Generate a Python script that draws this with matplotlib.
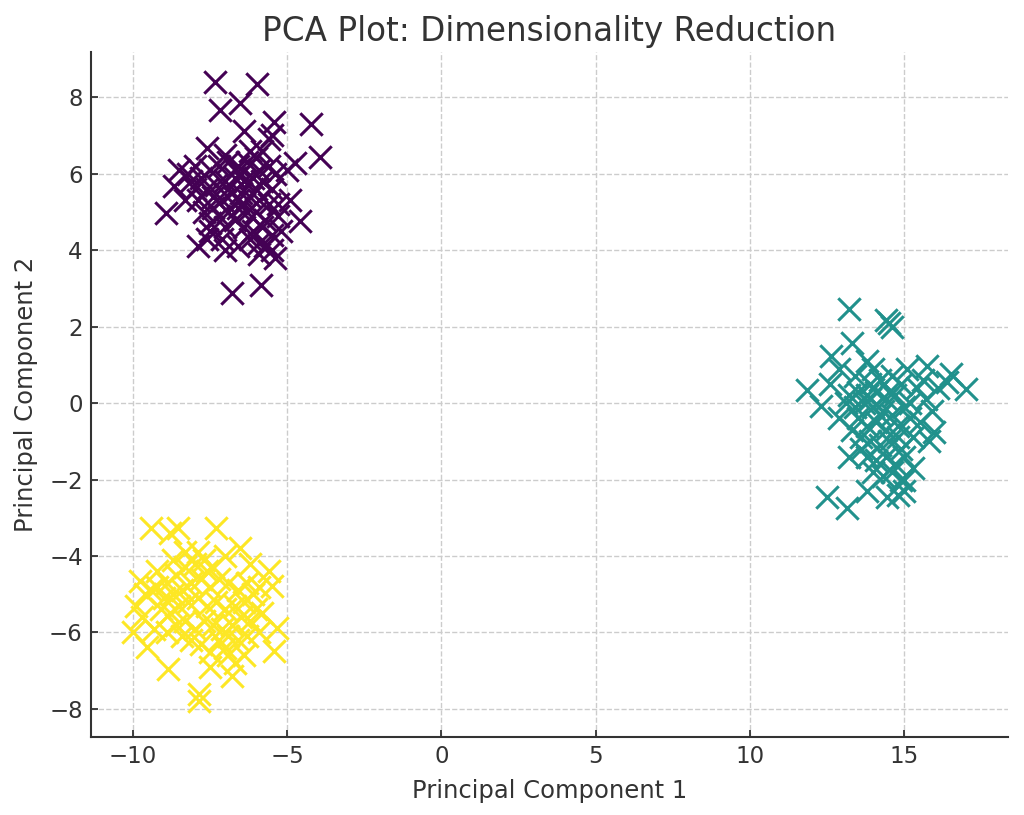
import matplotlib
matplotlib.use("Agg")
import matplotlib.pyplot as plt
import numpy as np

# Cluster 0 (purple)
c0_x = [-7.32, -5.96, -7.19, -6.51, -5.41, -4.24, -6.38, -5.50, -3.92, -7.61, -8.91, -8.65, -6.80, -5.86,
        -4.57, -4.73, -5.60, -7.90, -7.50, -5.90, -5.50, -5.20, -5.00, -4.90, -8.30, -8.50, -8.00, -7.00,
        -6.20, -5.40,
        -7.8, -7.5, -7.2, -6.9, -6.6, -6.3, -6.0, -5.8, -5.6, -5.4, -7.6, -7.3, -7.0, -6.7, -6.4, -6.1,
        -5.8, -5.5, -7.9, -7.4, -7.1, -6.8, -6.5, -6.2, -5.9, -5.6, -7.7, -7.2, -6.9, -6.6, -6.3, -6.0,
        -5.7, -5.3, -7.5, -7.0, -6.7, -6.4, -6.1, -5.8, -5.5, -8.1, -8.2, -7.0, -6.2, -5.9, -6.5, -6.9,
        -7.4, -6.6, -6.0, -5.9, -5.7, -5.3, -8.0, -7.1, -6.6, -7.6, -6.4, -6.7]
c0_y = [8.39, 8.34, 7.66, 7.84, 7.34, 7.29, 7.13, 7.00, 6.45, 6.66, 4.96, 5.67, 2.89, 3.10,
        4.75, 6.27, 6.90, 4.10, 4.50, 3.90, 4.00, 4.50, 6.10, 5.30, 5.30, 6.10, 6.20, 4.00,
        4.30, 3.80,
        5.9, 6.1, 6.2, 6.3, 6.2, 6.3, 6.4, 6.6, 6.2, 6.0, 5.6, 5.7, 5.8, 5.9, 5.8, 5.9,
        5.8, 5.6, 5.3, 5.4, 5.3, 5.5, 5.5, 5.4, 5.3, 5.2, 5.0, 4.9, 5.0, 5.1, 5.0, 5.0,
        4.8, 4.9, 4.7, 4.6, 4.8, 4.6, 4.5, 4.6, 4.4, 5.8, 6.0, 6.5, 6.6, 6.1, 6.0, 5.6,
        5.1, 5.3, 5.6, 4.2, 4.1, 5.2, 5.6, 4.3, 4.1, 4.3, 5.2, 6.1]

# Cluster 1 (teal)
c1_x = [13.21, 14.41, 14.61, 14.50, 11.85, 12.31, 17.00, 16.51, 16.40, 15.74, 12.50, 13.15, 13.80, 14.44,
        14.99, 15.96, 12.63, 13.30, 13.80, 12.90, 15.10, 15.70, 16.10, 12.60, 12.90, 15.80, 15.90, 15.30,
        15.00, 14.80, 13.20,
        13.2, 13.5, 13.8, 14.1, 14.4, 14.7, 13.4, 13.7, 14.0, 14.3, 14.6, 15.0, 13.5, 13.8, 14.1, 14.4,
        14.8, 15.2, 13.6, 13.9, 14.2, 14.5, 14.9, 15.3, 13.8, 14.1, 14.4, 14.7, 15.0, 14.0, 14.3, 14.6,
        14.9, 13.9, 14.2, 14.6, 14.9, 15.4, 13.1, 13.4, 14.0, 15.2, 15.5, 13.3, 13.6, 14.5, 13.9, 14.2,
        14.8, 15.6]
c1_y = [2.47, 2.16, 1.98, 2.10, 0.33, -0.07, 0.38, 0.77, 0.55, 0.98, -2.47, -2.74, -2.29, -2.47,
        -2.29, -0.77, 1.24, 1.56, 1.10, 0.90, 0.90, 0.10, 0.40, 0.50, -0.40, -1.00, -0.20, -1.70,
        -2.00, -2.40, -1.40,
        0.2, 0.3, 0.2, 0.3, 0.1, 0.2, -0.1, 0.0, -0.1, -0.2, -0.3, -0.1, -0.4, -0.6, -0.5, -0.7,
        -0.6, -0.4, -0.9, -1.0, -1.1, -1.0, -1.2, -0.9, -1.4, -1.5, -1.4, -1.6, -1.4, -1.8, -1.9, -1.8,
        -2.0, 0.5, 0.6, 0.7, 0.5, 0.4, 0.0, 0.7, 0.9, 0.0, -0.5, -0.7, -1.2, 0.3, 0.1, -0.3,
        -0.9, 0.6]

# Cluster 2 (yellow)
c2_x = [-7.84, -7.84, -9.42, -8.55, -8.80, -7.29, -6.54, -5.57, -5.50, -5.34, -5.44, -6.80, -6.70, -8.87,
        -9.55, -10.00, -9.78, -9.90, -9.60, -5.80, -5.90, -7.50, -7.00, -6.90, -9.20, -8.30, -7.00,
        -9.2, -8.9, -8.6, -8.3, -8.0, -7.7, -7.4, -9.0, -8.7, -8.4, -8.1, -7.8, -7.5, -7.2, -6.9, -6.6,
        -6.3, -9.1, -8.8, -8.5, -8.2, -7.9, -7.6, -7.3, -7.0, -6.7, -6.4, -6.1, -8.6, -8.3, -8.0, -7.7,
        -7.4, -7.1, -6.8, -6.5, -6.2, -8.1, -7.8, -7.2, -6.9, -6.6, -6.3, -9.4, -9.7, -8.4, -8.7, -7.9,
        -7.6, -6.2, -5.9, -6.0, -8.9, -9.3, -7.5, -6.4]
c2_y = [-7.79, -7.60, -3.26, -3.26, -3.40, -3.26, -3.78, -4.39, -4.78, -5.88, -6.48, -7.14, -6.80, -6.95,
        -6.38, -6.00, -4.65, -5.30, -5.00, -5.50, -6.00, -6.50, -6.40, -6.60, -4.40, -3.90, -4.00,
        -4.8, -4.7, -4.5, -4.3, -4.2, -4.1, -4.3, -5.1, -5.0, -4.9, -4.7, -4.6, -4.8, -4.6, -4.7, -4.9,
        -4.7, -5.4, -5.5, -5.3, -5.2, -5.1, -5.3, -5.2, -5.4, -5.3, -5.2, -5.0, -5.8, -5.7, -5.9, -5.7,
        -5.8, -5.9, -5.8, -5.6, -5.7, -6.2, -6.3, -6.2, -6.1, -6.2, -6.1, -4.9, -5.6, -6.1, -4.1, -3.9,
        -4.4, -4.2, -4.8, -5.4, -6.0, -5.9, -6.9, -6.6]

colors = plt.cm.viridis([0.0, 0.5, 1.0])

fig, ax = plt.subplots(figsize=(10.24, 8.15), dpi=100)
for (xs, ys), col in zip([(c0_x, c0_y), (c1_x, c1_y), (c2_x, c2_y)], colors):
    ax.scatter(xs, ys, marker='x', s=260, linewidths=2.2, color=col)

text_col = '#333333'
ax.set_title('PCA Plot: Dimensionality Reduction', fontsize=23.5, color=text_col, pad=8)
ax.set_xlabel('Principal Component 1', fontsize=17.5, color=text_col, labelpad=8)
ax.set_ylabel('Principal Component 2', fontsize=17.5, color=text_col, labelpad=8)
ax.tick_params(labelsize=16.5, colors=text_col, direction='in', length=5, width=1.3, pad=6)
ax.grid(True, linestyle='--', color='#cccccc', linewidth=1)
ax.set_axisbelow(True)
for s in ['top', 'right']:
    ax.spines[s].set_visible(False)
ax.spines['left'].set_color(text_col)
ax.spines['bottom'].set_color(text_col)
ax.spines['left'].set_linewidth(1.5)
ax.spines['bottom'].set_linewidth(1.5)
ax.set_xticks([-10, -5, 0, 5, 10, 15])
ax.set_yticks([-8, -6, -4, -2, 0, 2, 4, 6, 8])
ax.set_ylim(-8.73, 9.18)
fig.subplots_adjust(left=0.089, right=0.984, top=0.936, bottom=0.096)
fig.savefig('out.png', dpi=100)
